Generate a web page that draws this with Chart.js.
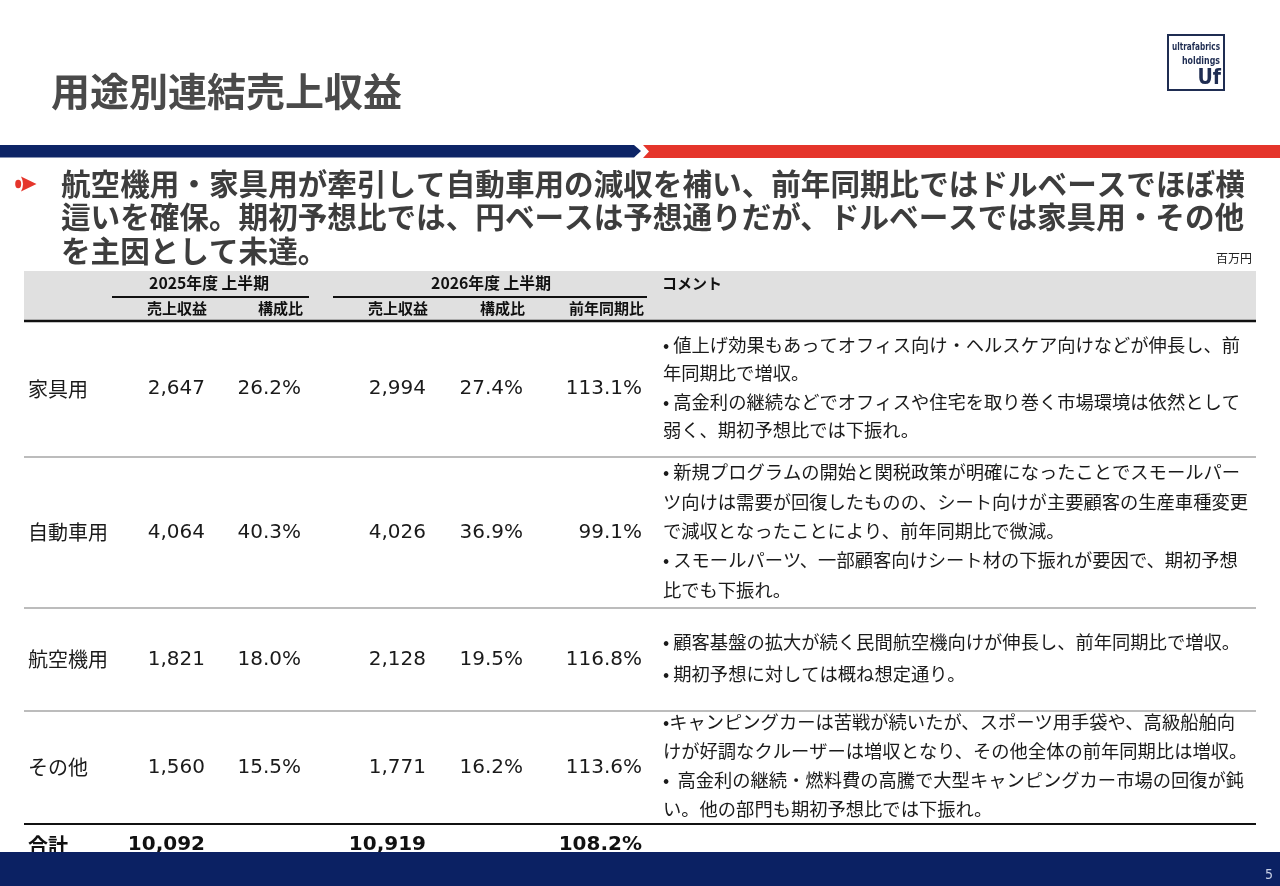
<!DOCTYPE html>
<html>
<head>
<meta charset="utf-8">
<script src="https://cdn.jsdelivr.net/npm/chart.js@4"></script>
<style>
  html, body { margin: 0; padding: 0; background: #ffffff; }
  #lienzo { display: block; }
</style>
</head>
<body>
<canvas id="lienzo" width="1280" height="886"></canvas>
<script>
// DATOS DE LA TABLA
var categorias = ['家具用', '自動車用', '航空機用', 'その他'];
var ventas2025 = [2647, 4064, 1821, 1560];
var ratio2025 = [26.2, 40.3, 18.0, 15.5];
var ventas2026 = [2994, 4026, 2128, 1771];
var ratio2026 = [27.4, 36.9, 19.5, 16.2];
var interanual = [113.1, 99.1, 116.8, 113.6];

var totalEtiqueta = '合計';
var total2025 = 10092;
var total2026 = 10919;
var totalInteranual = 108.2;

var comentarios = [
    ['• 値上げ効果もあってオフィス向け・ヘルスケア向けなどが伸長し、前',
     '年同期比で増収。',
     '• 高金利の継続などでオフィスや住宅を取り巻く市場環境は依然として',
     '弱く、期初予想比では下振れ。'],
    ['• 新規プログラムの開始と関税政策が明確になったことでスモールパー',
     'ツ向けは需要が回復したものの、シート向けが主要顧客の生産車種変更',
     'で減収となったことにより、前年同期比で微減。',
     '• スモールパーツ、一部顧客向けシート材の下振れが要因で、期初予想',
     '比でも下振れ。'],
    ['• 顧客基盤の拡大が続く民間航空機向けが伸長し、前年同期比で増収。',
     '• 期初予想に対しては概ね想定通り。'],
    ['•キャンピングカーは苦戦が続いたが、スポーツ用手袋や、高級船舶向',
     'けが好調なクルーザーは増収となり、その他全体の前年同期比は増収。',
     '•  高金利の継続・燃料費の高騰で大型キャンピングカー市場の回復が鈍',
     'い。他の部門も期初予想比では下振れ。']
];

var titulo = '用途別連結売上収益';
var titular = [
    '航空機用・家具用が牽引して自動車用の減収を補い、前年同期比ではドルベースでほぼ横',
    '這いを確保。期初予想比では、円ベースは予想通りだが、ドルベースでは家具用・その他',
    'を主因として未達。'
];
var unidad = '百万円';
var grupos = ['2025年度 上半期', '2026年度 上半期'];
var columnas = ['売上収益', '構成比', '売上収益', '構成比', '前年同期比'];
var comentarioCabecera = 'コメント';
var pagina = '5';

// DISPOSICION (no son datos)
var filas = [321, 457, 608, 711, 824];
var colDerecha = [205, 301, 426, 523, 642];
var grupoCentro = [209, 491];
var grupoLinea = [[112, 309], [333, 647]];
var tablaX = [24, 1256];
var comentarioX = 663;
var interlineado = [28.5, 29.3, 32, 29];

var FUENTE_JP = '"Noto Sans CJK JP", "Noto Sans", sans-serif';
var FUENTE_NUM = '"DejaVu Sans", "Noto Sans CJK JP", sans-serif';
var FUENTE_LOGO = '"Liberation Sans Narrow", "DejaVu Sans Condensed", sans-serif';
var AZUL = '#0d2466';
var ROJO = '#e5352b';

function miles(n) {
    return n.toLocaleString('en-US');
}
function porcentaje(n) {
    return n.toFixed(1) + '%';
}

//-----------------------------------------------------------------
// PLUGIN QUE DIBUJA LA DIAPOSITIVA CON LAS ESCALAS DE LA GRAFICA
//-----------------------------------------------------------------
var pluginTabla = {
    id: 'tabla',
    afterDraw: function (chart) {
        var ctx = chart.ctx;
        var sx = chart.scales.x;
        var sy = chart.scales.y;
        function X(v) { return sx.getPixelForValue(v); }
        function Y(v) { return sy.getPixelForValue(v); }

        function linea(x1, x2, y, color, ancho) {
            ctx.beginPath();
            ctx.strokeStyle = color;
            ctx.lineWidth = ancho;
            ctx.moveTo(X(x1), Y(y));
            ctx.lineTo(X(x2), Y(y));
            ctx.stroke();
        }
        function texto(t, x, y, fuente, color, alin, maxAncho) {
            ctx.font = fuente;
            ctx.fillStyle = color;
            ctx.textAlign = alin || 'left';
            ctx.textBaseline = 'middle';
            if (maxAncho) {
                ctx.fillText(t, X(x), Y(y), maxAncho);
            } else {
                ctx.fillText(t, X(x), Y(y));
            }
        }

        ctx.save();

        // TITULO
        texto(titulo, 51, 91, 'bold 39px ' + FUENTE_JP, '#4a4a4a');

        // LOGO
        ctx.strokeStyle = '#1f2d52';
        ctx.lineWidth = 2;
        ctx.strokeRect(X(1168), Y(35), X(1224) - X(1168), Y(90) - Y(35));
        texto('ultrafabrics', 1220, 47, 'bold 11px ' + FUENTE_LOGO, '#1f2d52', 'right', 48);
        texto('holdings', 1220, 61, 'bold 11px ' + FUENTE_LOGO, '#1f2d52', 'right', 38);
        texto('Uf', 1221, 79, 'bold 21px ' + FUENTE_LOGO, '#1f2d52', 'right');

        // BANDA SUPERIOR
        ctx.fillStyle = AZUL;
        ctx.beginPath();
        ctx.moveTo(X(0), Y(145));
        ctx.lineTo(X(634), Y(145));
        ctx.lineTo(X(641), Y(151));
        ctx.lineTo(X(634), Y(157.5));
        ctx.lineTo(X(0), Y(157.5));
        ctx.closePath();
        ctx.fill();
        ctx.fillStyle = ROJO;
        ctx.beginPath();
        ctx.moveTo(X(643), Y(145));
        ctx.lineTo(X(1280), Y(145));
        ctx.lineTo(X(1280), Y(158));
        ctx.lineTo(X(643), Y(158));
        ctx.lineTo(X(649), Y(151.5));
        ctx.closePath();
        ctx.fill();

        // ICONO DEL TITULAR
        ctx.fillStyle = ROJO;
        ctx.beginPath();
        ctx.moveTo(X(21), Y(176.5));
        ctx.lineTo(X(36.5), Y(184));
        ctx.lineTo(X(21), Y(191.5));
        ctx.quadraticCurveTo(X(25), Y(184), X(21), Y(176.5));
        ctx.closePath();
        ctx.fill();
        ctx.beginPath();
        ctx.ellipse(X(18.2), Y(184), 3, 4.2, 0, 0, Math.PI * 2);
        ctx.fill();

        // TITULAR
        var yt = [184, 216.5, 250.5];
        for (var i = 0; i < titular.length; i++) {
            texto(titular[i], 61, yt[i], 'bold 29.6px ' + FUENTE_JP, '#3d3d3d');
        }
        texto(unidad, 1252, 258, '12px ' + FUENTE_JP, '#222222', 'right');

        // CABECERA DE LA TABLA
        ctx.fillStyle = '#e0e0e0';
        ctx.fillRect(X(tablaX[0]), Y(271), X(tablaX[1]) - X(tablaX[0]), Y(321) - Y(271));
        var fCab = 'bold 15px ' + FUENTE_JP;
        for (var g = 0; g < grupos.length; g++) {
            texto(grupos[g], grupoCentro[g], 283, 'bold 15.8px ' + FUENTE_JP, '#111111', 'center');
            linea(grupoLinea[g][0], grupoLinea[g][1], 297, '#111111', 2);
        }
        for (var c = 0; c < columnas.length; c++) {
            texto(columnas[c], colDerecha[c] + 2, 308, fCab, '#111111', 'right');
        }
        texto(comentarioCabecera, 662, 283, fCab, '#111111');

        // FILAS
        var fNum = '20px ' + FUENTE_NUM;
        var fCom = '18.3px ' + FUENTE_JP;
        for (var r = 0; r < categorias.length; r++) {
            var ym = (filas[r] + filas[r + 1]) / 2;
            texto(categorias[r], 28, ym, '20px ' + FUENTE_JP, '#1a1a1a');
            var celdas = [miles(ventas2025[r]), porcentaje(ratio2025[r]), miles(ventas2026[r]),
                porcentaje(ratio2026[r]), porcentaje(interanual[r])];
            for (var k = 0; k < celdas.length; k++) {
                texto(celdas[k], colDerecha[k], ym, fNum, '#1a1a1a', 'right');
            }
            var lineas = comentarios[r];
            var paso = interlineado[r];
            var y0 = ym - 1.5 - paso * (lineas.length - 1) / 2;
            for (var l = 0; l < lineas.length; l++) {
                texto(lineas[l], comentarioX, y0 + paso * l, fCom, '#1a1a1a');
            }
        }

        // LINEAS DE LA TABLA
        for (var s = 1; s < filas.length - 1; s++) {
            linea(tablaX[0], tablaX[1], filas[s], '#a6a6a6', 1.5);
        }
        linea(tablaX[0], tablaX[1], filas[0], '#111111', 2.5);
        linea(tablaX[0], tablaX[1], filas[filas.length - 1], '#111111', 2);

        // TOTAL
        var fTot = 'bold 20px ' + FUENTE_NUM;
        texto(totalEtiqueta, 28, 845, 'bold 20px ' + FUENTE_JP, '#111111');
        texto(miles(total2025), colDerecha[0], 845, fTot, '#111111', 'right');
        texto(miles(total2026), colDerecha[2], 845, fTot, '#111111', 'right');
        texto(porcentaje(totalInteranual), colDerecha[4], 845, fTot, '#111111', 'right');

        // PIE
        ctx.fillStyle = '#0b2163';
        ctx.fillRect(X(0), Y(852), X(1280) - X(0), Y(886) - Y(852));
        texto(pagina, 1273, 875, '14px "DejaVu Sans Condensed", "DejaVu Sans", sans-serif', '#c9d1e6', 'right');

        ctx.restore();
    }
};

//CREAR GRAFICA
var miGrafica = new Chart(document.getElementById('lienzo'), {
    type: 'scatter',
    data: { datasets: [] },
    options: {
        responsive: false,
        animation: false,
        events: [],
        layout: { padding: 0 },
        plugins: { legend: { display: false }, tooltip: { enabled: false } },
        scales: {
            x: { type: 'linear', min: 0, max: 1280, display: false },
            y: { type: 'linear', min: 0, max: 886, reverse: true, display: false }
        }
    },
    plugins: [pluginTabla]
});
</script>
</body>
</html>
